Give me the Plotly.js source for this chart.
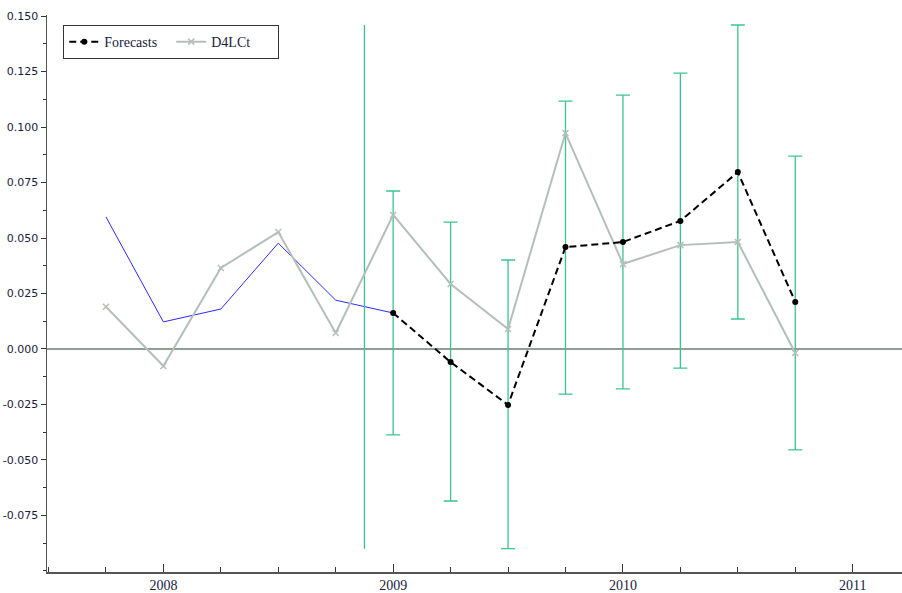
<!DOCTYPE html>
<html>
<head>
<meta charset="utf-8">
<script src="https://cdn.plot.ly/plotly-3.0.1.min.js"></script>
<style>html,body{margin:0;padding:0;background:#fff;}#chart{width:902px;height:593px;}</style>
</head>
<body>
<div id="chart"></div>
<script>
// Time axis (quarters as fractional years)
const histDates = [2007.75, 2008.0, 2008.25, 2008.5, 2008.75, 2009.0];
const histValues = [0.0595, 0.0122, 0.0180, 0.0477, 0.0220, 0.0162];

const actualDates = [2007.75, 2008.0, 2008.25, 2008.5, 2008.75, 2009.0, 2009.25, 2009.5, 2009.75, 2010.0, 2010.25, 2010.5, 2010.75];
const actualValues = [0.0190, -0.0077, 0.0365, 0.0527, 0.0072, 0.0604, 0.0293, 0.0090, 0.0973, 0.0383, 0.0468, 0.0482, -0.0018];

const fcDates = [2009.0, 2009.25, 2009.5, 2009.75, 2010.0, 2010.25, 2010.5, 2010.75];
const fcValues = [0.0162, -0.0059, -0.0252, 0.0459, 0.0482, 0.0577, 0.0797, 0.0212];
const fcUpper = [0.0712, 0.0572, 0.0401, 0.1117, 0.1144, 0.1243, 0.1460, 0.0869];
const fcLower = [-0.0387, -0.0685, -0.0900, -0.0203, -0.0180, -0.0086, 0.0135, -0.0455];

const splitDates = [2008.875, 2008.875];
const splitValues = [0.1460, -0.0900];

const yTickVals = [-0.075, -0.05, -0.025, 0, 0.025, 0.05, 0.075, 0.1, 0.125, 0.15];
const yTickText = ["-0.075", "-0.050", "-0.025", "0.000", "0.025", "0.050", "0.075", "0.100", "0.125", "0.150"];
const xTickVals = [2008, 2009, 2010, 2011];
const xTickText = ["2008", "2009", "2010", "2011"];

const green = '#3cc48e';
const grayS = '#b5bfba';
const traces = [
  {x: histDates, y: histValues, mode: 'lines', line: {color: '#2a2aff', width: 1}, showlegend: false, hoverinfo: 'skip'},
  {x: splitDates, y: splitValues, mode: 'lines', line: {color: green, width: 1.3}, showlegend: false, hoverinfo: 'skip'},
  {x: fcDates, y: fcValues, mode: 'markers', marker: {size: 1, color: 'rgba(0,0,0,0)'}, showlegend: false,
   error_y: {type: 'data', symmetric: false,
     array: fcUpper.map((u, i) => u - fcValues[i]),
     arrayminus: fcLower.map((l, i) => fcValues[i] - l),
     color: green, thickness: 1.3, width: 7}},
  {x: actualDates, y: actualValues, name: 'D4LCt', mode: 'lines+markers', legendrank: 2,
   line: {color: grayS, width: 2}, marker: {symbol: 'x-thin', size: 6, color: grayS, line: {color: grayS, width: 1.5}}},
  {x: fcDates, y: fcValues, name: 'Forecasts', mode: 'lines+markers', legendrank: 1,
   line: {color: '#000', width: 2, dash: '7px,4px'}, marker: {symbol: 'circle', size: 6, color: '#000'}}
];

const layout = {
  width: 902, height: 593,
  margin: {l: 47, r: 0, t: 15, b: 21},
  paper_bgcolor: '#fff', plot_bgcolor: '#fff',
  showlegend: true,
  legend: {x: 0.019, y: 0.982, xanchor: 'left', yanchor: 'top', orientation: 'h',
    bordercolor: '#333', borderwidth: 1, bgcolor: '#fff',
    font: {family: 'Liberation Serif', size: 14, color: '#1a1a40'}, itemwidth: 30, entrywidth: 62},
  xaxis: {range: [2007.4935, 2011.2145], tickvals: xTickVals, ticktext: xTickText,
    ticks: 'inside', ticklen: 8, tickcolor: '#333', showgrid: false, zeroline: false,
    showline: true, linecolor: '#555', linewidth: 1.5,
    minor: {dtick: 0.25, tick0: 2008, ticks: 'inside', ticklen: 5, tickcolor: '#333', showgrid: false},
    tickfont: {family: 'Liberation Serif', size: 14, color: '#1a1a40'}},
  yaxis: {range: [-0.1005, 0.1505], tickvals: yTickVals, ticktext: yTickText,
    ticks: 'outside', ticklen: 5, tickcolor: '#333', showgrid: false,
    zeroline: true, zerolinecolor: '#8f9f98', zerolinewidth: 1.5,
    showline: true, linecolor: '#555', linewidth: 1.5,
    minor: {dtick: 0.0125, tick0: 0, ticks: 'outside', ticklen: 3, tickcolor: '#333', showgrid: false},
    tickfont: {family: 'DejaVu Sans', size: 11, color: '#1a1a40'}}
};

Plotly.newPlot('chart', traces, layout, {displayModeBar: false, staticPlot: true});
</script>
</body>
</html>
